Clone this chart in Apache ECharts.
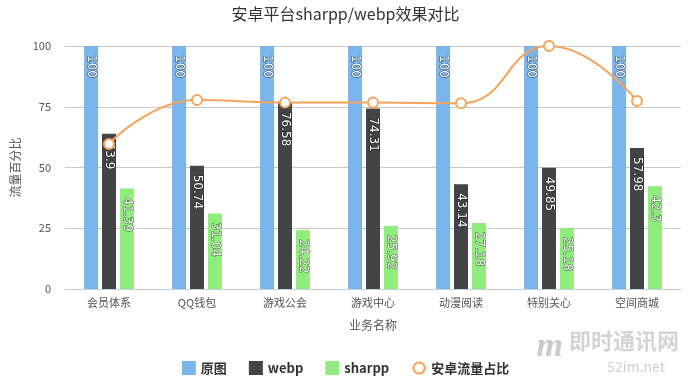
<!DOCTYPE html>
<html><head><meta charset="utf-8">
<script src="https://cdn.jsdelivr.net/npm/echarts@6/dist/echarts.min.js"></script>
<style>html,body{margin:0;padding:0;background:#fff}#c{width:691px;height:380px}</style>
</head><body><div id="c"></div>
<script>
var categories = ['会员体系','QQ钱包','游戏公会','游戏中心','动漫阅读','特别关心','空间商城'];
var original = [100,100,100,100,100,100,100];
var webp = [63.9,50.74,76.58,74.31,43.14,49.85,57.98];
var sharpp = [41.39,31.04,24.22,25.92,27.18,25.18,42.3];
var androidShare = [59.7,77.8,76.7,76.7,76.4,100,77.4];
var yTicks = [0,25,50,75,100];

var font = '"Noto Sans CJK SC","Noto Sans",sans-serif';
function barLabel(){
  return {show:true, position:'insideTop', rotate:-90, align:'left', verticalAlign:'middle',
    distance:9, color:'#fff', fontSize:12, fontFamily:'"DejaVu Sans",sans-serif',
    textBorderColor:'rgba(0,0,0,0.55)', textBorderWidth:1.2};
}
var chart = echarts.init(document.getElementById('c'));
chart.setOption({
  animation:false,
  title:{text:'安卓平台sharpp/webp效果对比', left:'center', top:1,
    textStyle:{fontSize:16, fontWeight:'normal', color:'#333', fontFamily:font}},
  grid:{left:65, right:10, top:46, bottom:91},
  legend:{bottom:0, left:'center', itemWidth:14, itemHeight:14, itemGap:22,
    textStyle:{fontSize:13, fontWeight:'bold', color:'#333', fontFamily:font},
    data:[{name:'原图', icon:'rect'},{name:'webp', icon:'rect'},{name:'sharpp', icon:'rect'},{name:'安卓流量占比'}]},
  xAxis:{type:'category', data:categories, name:'业务名称', nameLocation:'middle', nameGap:30,
    nameTextStyle:{fontSize:12, color:'#555', fontFamily:font},
    axisLine:{lineStyle:{color:'#c0d0e0'}}, axisTick:{length:6, lineStyle:{color:'#c0d0e0'}},
    axisLabel:{fontSize:11, color:'#555', fontFamily:font, margin:8}},
  yAxis:{type:'value', min:0, max:100, interval:25, name:'流量百分比', nameLocation:'middle', nameGap:36,
    nameTextStyle:{fontSize:12, color:'#555', fontFamily:font},
    axisLine:{show:false}, axisTick:{show:false},
    axisLabel:{fontSize:11, color:'#555', fontFamily:font, margin:14, formatter:function(v){return yTicks.indexOf(v)>=0?v:'';}},
    splitLine:{lineStyle:{color:'#c8c8c8'}}},
  series:[
    {name:'原图', type:'bar', data:original, barWidth:14, barGap:'28%', itemStyle:{color:'#7cb5ec'}, label:barLabel()},
    {name:'webp', type:'bar', data:webp, barWidth:14, barGap:'28%', itemStyle:{color:'#434348'}, label:barLabel()},
    {name:'sharpp', type:'bar', data:sharpp, barWidth:14, barGap:'28%', itemStyle:{color:'#90ed7d'}, label:barLabel()},
    {name:'安卓流量占比', type:'line', data:androidShare, smooth:true, z:10, symbol:'emptyCircle', symbolSize:10,
      lineStyle:{color:'#f7a35c', width:2}, itemStyle:{color:'#f7a35c', borderWidth:2}}
  ],
  graphic:[
    {type:'text', right:12, bottom:28, style:{text:'即时通讯网', fill:'rgba(160,160,160,0.45)', font:'bold 22px '+font}},
    {type:'text', right:26, bottom:6, style:{text:'52im.net', fill:'rgba(160,160,160,0.5)', font:'14px '+font}},
    {type:'text', right:128, bottom:16, style:{text:'m', fill:'rgba(150,150,150,0.5)', font:'italic bold 34px serif'}}
  ]
});
</script></body></html>
